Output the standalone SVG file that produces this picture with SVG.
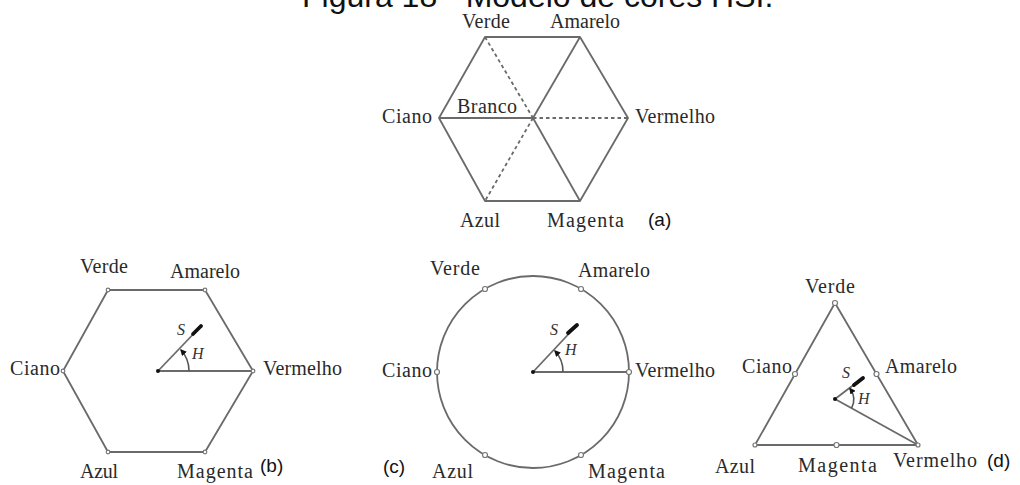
<svg xmlns="http://www.w3.org/2000/svg" width="1020" height="485" viewBox="0 0 1020 485">
<style>
.ln{fill:none;stroke:#6a6a6a;stroke-width:1.8;stroke-linejoin:round}
.ds{fill:none;stroke:#6a6a6a;stroke-width:1.8;stroke-dasharray:3.5,3}
.lb{font-family:"Liberation Serif","Times New Roman",serif;font-size:20px;fill:#2a2a2a}
.it{font-family:"Liberation Serif","Times New Roman",serif;font-style:italic;font-size:16px;fill:#333}
.tg{font-family:"Liberation Sans",Arial,sans-serif;font-size:19px;fill:#111}
.tt{font-family:"Liberation Sans",Arial,sans-serif;font-size:32px;fill:#111}
.sv{stroke:#111;stroke-width:3.8;stroke-linecap:round}
.arc{fill:none;stroke:#555;stroke-width:1.6;marker-end:url(#ah)}
.pt{fill:#fff;stroke:#777;stroke-width:1.2}
.dot{fill:#111}
</style>
<defs>
<marker id="ah" viewBox="0 0 10 10" refX="8" refY="5" markerWidth="4" markerHeight="4" orient="auto" markerUnits="strokeWidth">
<path d="M0,0 L10,5 L0,10 z" fill="#111"/>
</marker>
</defs>
<text class="tt" x="302" y="7">Figura 18 - Modelo de cores HSI.</text>

<g id="panel-a">
<polygon class="ln" points="485,37 580,37 628,118 580,201 485,201 439,118"/>
<g id="connectors-a">
<line class="ln" x1="439" y1="118" x2="533" y2="118"/>
<line class="ln" x1="580" y1="37" x2="533" y2="118"/>
<line class="ln" x1="533" y1="118" x2="580" y2="201"/>
<line class="ds" x1="485" y1="37" x2="533" y2="118"/>
<line class="ds" x1="533" y1="118" x2="485" y2="201"/>
<line class="ds" x1="533" y1="118" x2="628" y2="118"/>
</g>
<text class="lb" x="462" y="28" textLength="48">Verde</text>
<text class="lb" x="550" y="28" textLength="70">Amarelo</text>
<text class="lb" x="382" y="123" textLength="50">Ciano</text>
<text class="lb" x="635" y="123" textLength="80">Vermelho</text>
<text class="lb" x="457" y="113" textLength="60">Branco</text>
<text class="lb" x="460" y="227" textLength="40">Azul</text>
<text class="lb" x="547" y="227" textLength="77">Magenta</text>
<text class="tg" x="648" y="226">(a)</text>
</g>

<g id="panel-b">
<polygon class="ln" points="108,290 205,290 253,371 205,452 108,452 63,371"/>
<g id="connectors-b">
<line class="ln" x1="158" y1="371" x2="253" y2="371"/>
<line class="ln" x1="158" y1="371" x2="202" y2="325"/>
<line class="sv" x1="193" y1="334" x2="201" y2="326"/>
<path class="arc" d="M189,371 A31,31 0 0 0 181,350"/>
</g>
<circle class="dot" cx="158" cy="371" r="2"/>
<circle class="pt" cx="108" cy="290" r="1.8"/><circle class="pt" cx="205" cy="290" r="1.8"/>
<circle class="pt" cx="253" cy="371" r="1.8"/><circle class="pt" cx="63" cy="371" r="1.8"/>
<circle class="pt" cx="108" cy="452" r="1.8"/><circle class="pt" cx="205" cy="452" r="1.8"/>
<text class="lb" x="80" y="273" textLength="48">Verde</text>
<text class="lb" x="170" y="278" textLength="70">Amarelo</text>
<text class="lb" x="10" y="375" textLength="50">Ciano</text>
<text class="lb" x="263" y="375" textLength="79">Vermelho</text>
<text class="lb" x="80" y="478" textLength="38">Azul</text>
<text class="lb" x="177" y="478" textLength="76">Magenta</text>
<text class="tg" x="260" y="472">(b)</text>
<text class="it" x="177" y="335">S</text>
<text class="it" x="192" y="359">H</text>
</g>

<g id="panel-c">
<circle class="ln" cx="533" cy="372" r="96"/>
<g id="connectors-c">
<line class="ln" x1="533" y1="372" x2="629" y2="372"/>
<line class="ln" x1="533" y1="372" x2="578" y2="324"/>
<line class="sv" x1="568" y1="333" x2="577" y2="325"/>
<path class="arc" d="M563,372 A30,30 0 0 0 555,351"/>
</g>
<circle class="dot" cx="533" cy="372" r="2"/>
<circle class="pt" cx="629" cy="372" r="2.5"/><circle class="pt" cx="581" cy="289" r="2.5"/>
<circle class="pt" cx="485" cy="289" r="2.5"/><circle class="pt" cx="437" cy="372" r="2.5"/>
<circle class="pt" cx="485" cy="455" r="2.5"/><circle class="pt" cx="581" cy="455" r="2.5"/>
<text class="lb" x="430" y="275" textLength="50">Verde</text>
<text class="lb" x="578" y="277" textLength="72">Amarelo</text>
<text class="lb" x="382" y="377" textLength="50">Ciano</text>
<text class="lb" x="635" y="377" textLength="80">Vermelho</text>
<text class="lb" x="432" y="478" textLength="41">Azul</text>
<text class="lb" x="588" y="478" textLength="77">Magenta</text>
<text class="tg" x="383" y="473">(c)</text>
<text class="it" x="550" y="335">S</text>
<text class="it" x="565" y="355">H</text>
</g>

<g id="panel-d">
<polygon class="ln" points="835,303 918,445 755,445"/>
<g id="connectors-d">
<line class="ln" x1="835" y1="399" x2="918" y2="445"/>
<line class="ln" x1="835" y1="399" x2="864" y2="377"/>
<line class="sv" x1="854" y1="385" x2="863" y2="378"/>
<path class="arc" d="M851.6,408.2 A19,19 0 0 0 850,388.5"/>
</g>
<circle class="dot" cx="835" cy="399" r="2"/>
<circle class="pt" cx="835" cy="303" r="2.5"/><circle class="pt" cx="795" cy="374" r="2.5"/>
<circle class="pt" cx="876.5" cy="374" r="2.5"/><circle class="pt" cx="836.5" cy="445" r="2.5"/>
<circle class="pt" cx="755" cy="445" r="2"/><circle class="pt" cx="918" cy="445" r="2"/>
<text class="lb" x="805" y="293" textLength="50">Verde</text>
<text class="lb" x="742" y="373" textLength="50">Ciano</text>
<text class="lb" x="885" y="373" textLength="72">Amarelo</text>
<text class="lb" x="715" y="473" textLength="40">Azul</text>
<text class="lb" x="798" y="472" textLength="79">Magenta</text>
<text class="lb" x="893" y="467" textLength="84">Vermelho</text>
<text class="tg" x="987" y="467">(d)</text>
<text class="it" x="842" y="378">S</text>
<text class="it" x="858" y="404">H</text>
</g>
</svg>
